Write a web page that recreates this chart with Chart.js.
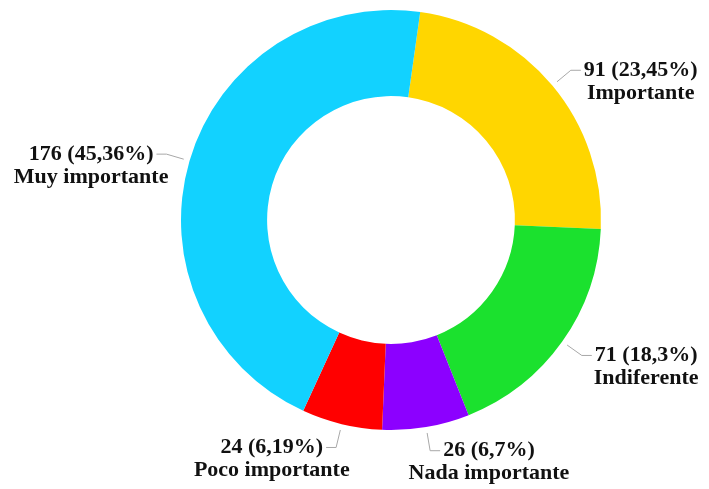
<!DOCTYPE html>
<html>
<head>
<meta charset="utf-8">
<script src="https://cdn.jsdelivr.net/npm/chart.js@4"></script>
<style>
  html, body { margin: 0; padding: 0; background: #fff; }
  #wrap { width: 709px; height: 489px; }
</style>
</head>
<body>
<div id="wrap"><canvas id="myChart"></canvas></div>
<script>
const categorias = ['Importante', 'Indiferente', 'Nada importante', 'Poco importante', 'Muy importante'];
const respuestas = [91, 71, 26, 24, 176];
const colores = ['#FFD600', '#1BE12E', '#8C00FF', '#FF0000', '#12D2FF'];

const total = respuestas.reduce((a, b) => a + b, 0);

function porcentaje(v) {
  let p = (v / total * 100).toFixed(2);
  p = p.replace(/0+$/, '').replace(/\.$/, '');
  return p.replace('.', ',') + '%';
}

// etiquetas con linea guia fuera del anillo
const etiquetas = {
  id: 'etiquetas',
  afterDraw(chart) {
    const c = chart.ctx;
    const meta = chart.getDatasetMeta(0);
    c.save();
    c.font = 'bold 22px "Liberation Serif", "Times New Roman", serif';
    c.textBaseline = 'middle';
    meta.data.forEach((arc, i) => {
      const { x, y, startAngle, endAngle, outerRadius } = arc.getProps(['x', 'y', 'startAngle', 'endAngle', 'outerRadius'], true);
      const mid = (startAngle + endAngle) / 2;
      const cos = Math.cos(mid), sin = Math.sin(mid);
      const lado = cos >= 0 ? 1 : -1;
      const p1 = { x: x + cos * (outerRadius + 6), y: y + sin * (outerRadius + 6) };
      const p2 = { x: x + cos * (outerRadius + 24), y: y + sin * (outerRadius + 24) };
      const p3 = { x: p2.x + lado * 10, y: p2.y };

      c.strokeStyle = '#a8a8a8';
      c.lineWidth = 1;
      c.beginPath();
      c.moveTo(p1.x, p1.y);
      c.lineTo(p2.x, p2.y);
      c.lineTo(p3.x, p3.y);
      c.stroke();

      const linea1 = respuestas[i] + ' (' + porcentaje(respuestas[i]) + ')';
      const linea2 = categorias[i];
      const w1 = c.measureText(linea1).width;
      const x1 = lado > 0 ? p3.x + 3 : p3.x - 3 - w1;
      const centro = x1 + w1 / 2;
      c.fillStyle = '#111';
      c.textAlign = 'center';
      c.fillText(linea1, centro, p3.y);
      c.fillText(linea2, centro, p3.y + 23);
    });
    c.restore();
  }
};

new Chart(document.getElementById('myChart'), {
  type: 'doughnut',
  data: {
    labels: categorias,
    datasets: [{
      data: respuestas,
      backgroundColor: colores,
      borderWidth: 0
    }]
  },
  options: {
    responsive: true,
    maintainAspectRatio: false,
    animation: false,
    rotation: 8,
    cutout: '59%',
    layout: {
      padding: { left: 181, right: 108, top: 10, bottom: 59 }
    },
    plugins: {
      legend: { display: false },
      tooltip: { enabled: false }
    }
  },
  plugins: [etiquetas]
});
</script>
</body>
</html>
